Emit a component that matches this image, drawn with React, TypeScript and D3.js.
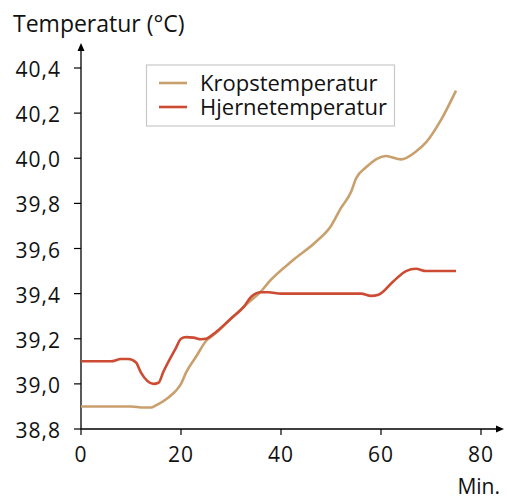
import * as d3 from 'd3';

// minutter / temperatur
const kropMin = [0, 10, 12.5, 14, 15, 17.5, 19, 20, 21, 23, 25, 27, 30.5, 34, 36, 37.5, 42.5, 47, 50, 52, 54, 55, 57, 61, 64, 67, 69, 72, 75];
const kropTemp = [38.9, 38.9, 38.895, 38.895, 38.905, 38.94, 38.97, 39.0, 39.05, 39.12, 39.19, 39.225, 39.3, 39.37, 39.41, 39.45, 39.55, 39.63, 39.7, 39.78, 39.85, 39.91, 39.96, 40.01, 39.995, 40.03, 40.07, 40.17, 40.3];

const hjerneMin = [0, 6, 8, 9.5, 11, 12, 14.5, 15.5, 16.5, 19, 20, 21, 22.5, 24, 25, 27, 30, 32.5, 34, 36, 37.5, 40, 56, 58, 59.5, 62.5, 65, 67, 69, 75];
const hjerneTemp = [39.1, 39.1, 39.11, 39.11, 39.095, 39.05, 39.0, 39.005, 39.055, 39.16, 39.2, 39.207, 39.205, 39.198, 39.2, 39.23, 39.29, 39.34, 39.385, 39.406, 39.406, 39.4, 39.4, 39.39, 39.395, 39.455, 39.5, 39.51, 39.5, 39.5];

const yTicks = [38.8, 39.0, 39.2, 39.4, 39.6, 39.8, 40.0, 40.2, 40.4];
const xTicks = [0, 20, 40, 60, 80];
const seriesNames = ['Kropstemperatur', 'Hjernetemperatur'];
const colors = ['#c9a06d', '#cd4b32'];

const W = 507;
const H = 499;
const font = '"Open Sans", "Noto Sans", sans-serif';

export default function App() {
  const x = d3.scaleLinear().domain([0, 80]).range([81, 481]);
  const y = d3.scaleLinear().domain([38.8, 40.4]).range([429, 68]);

  const line = d3.line<[number, number]>()
    .x(d => x(d[0]))
    .y(d => y(d[1]))
    .curve(d3.curveMonotoneX);

  const series = [
    kropMin.map((m, i) => [m, kropTemp[i]] as [number, number]),
    hjerneMin.map((m, i) => [m, hjerneTemp[i]] as [number, number]),
  ];

  const fmt = (v: number) => v.toFixed(1).replace('.', ',');

  return (
    <svg width={W} height={H} style={{ position: 'absolute', left: 0, top: 0 }} fontFamily={font}>
      <text x={13} y={32} fontSize={23} fill="#111">Temperatur (°C)</text>

      {/* y-akse */}
      <line x1={81} x2={81} y1={429} y2={50} stroke="#000" strokeWidth={1.3} />
      <path d="M81,43 L77.5,51 L84.5,51 Z" fill="#000" />
      {yTicks.map(t => (
        <g key={t}>
          <line x1={74} x2={81} y1={y(t)} y2={y(t)} stroke="#000" strokeWidth={1.2} />
          <text x={61} y={y(t) + 9} fontSize={21} letterSpacing={1} textAnchor="end" fill="#111">{fmt(t)}</text>
        </g>
      ))}

      {/* x-akse */}
      <line x1={81} x2={497} y1={429} y2={429} stroke="#000" strokeWidth={1.3} />
      <path d="M504,429 L496,425.5 L496,432.5 Z" fill="#000" />
      {xTicks.map(t => (
        <g key={t}>
          <line x1={x(t)} x2={x(t)} y1={429} y2={435} stroke="#000" strokeWidth={1.2} />
          <text x={x(t)} y={462} fontSize={21} letterSpacing={1} textAnchor="middle" fill="#111">{t}</text>
        </g>
      ))}
      <text x={500} y={494} fontSize={21} textAnchor="end" fill="#111">Min.</text>

      {series.map((s, i) => (
        <path key={i} d={line(s) ?? ''} fill="none" stroke={colors[i]} strokeWidth={2.6} strokeLinejoin="round" />
      ))}

      {/* forklaring */}
      <rect x={146.5} y={65} width={248} height={61} fill="#fff" stroke="#c8c8c8" strokeWidth={1.2} />
      {seriesNames.map((n, i) => (
        <g key={n}>
          <line x1={159} x2={187} y1={83 + i * 24} y2={83 + i * 24} stroke={colors[i]} strokeWidth={2.6} />
          <text x={200} y={90.5 + i * 24} fontSize={22} fill="#111">{n}</text>
        </g>
      ))}
    </svg>
  );
}
